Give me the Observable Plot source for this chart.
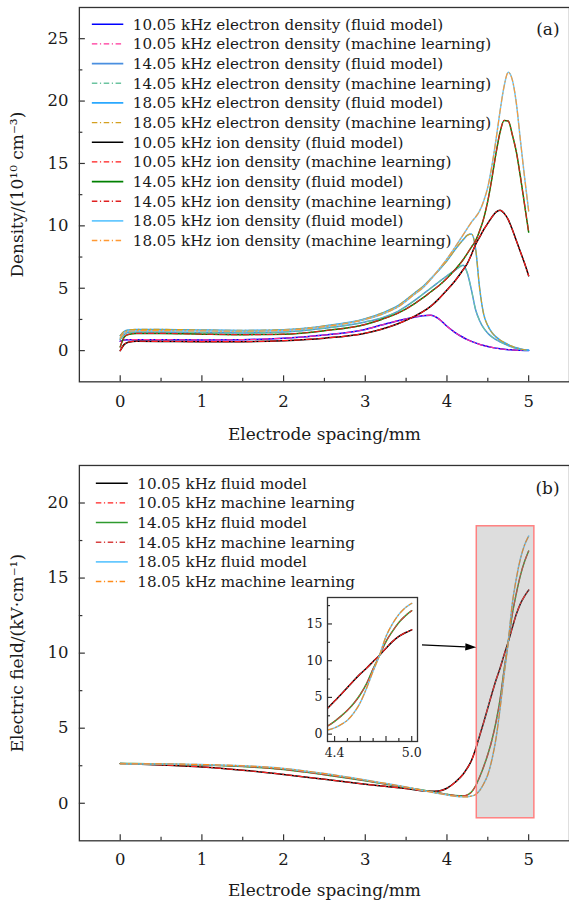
<!DOCTYPE html>
<html>
<head>
<meta charset="utf-8">
<script src="https://cdn.jsdelivr.net/npm/d3@7"></script>
<script src="https://cdn.jsdelivr.net/npm/@observablehq/plot@0.6"></script>
<style>
  html, body { margin: 0; padding: 0; background: #fff; }
  body { width: 569px; height: 905px; overflow: hidden; position: relative; font-family: "DejaVu Serif", serif; }
  #a, #b, #inset { position: absolute; }
  #a { left: 0; top: 0; }
  #b { left: 0; top: 450px; }
  #inset { left: 286.7px; top: 592.3px; background: #fff; }
</style>
</head>
<body>
<div id="a"></div>
<div id="b"></div>
<div id="inset"></div>
<script>
// ---------------- DATA: panel (a) densities (10^10 cm^-3) ----------------
const gridA = [0, 0.05, 0.1, 0.2, 0.5, 1, 1.5, 2, 2.5, 3, 3.2, 3.4, 3.6, 3.7, 3.8, 3.9, 4.0, 4.1, 4.2, 4.25, 4.3, 4.35, 4.4, 4.45, 4.5, 4.55, 4.6, 4.65, 4.7, 4.75, 4.8, 4.85, 4.9, 4.95, 5.0];
const elec10 = [0.75, 0.85, 0.88, 0.88, 0.88, 0.86, 0.88, 1.0, 1.25, 1.7, 2.05, 2.4, 2.68, 2.8, 2.84, 2.55, 1.95, 1.45, 1.05, 0.88, 0.74, 0.62, 0.5, 0.41, 0.33, 0.26, 0.2, 0.15, 0.11, 0.08, 0.06, 0.04, 0.03, 0.02, 0.01];
const elec14 = [0.9, 1.3, 1.45, 1.5, 1.5, 1.45, 1.42, 1.5, 1.8, 2.3, 2.62, 3.15, 4.0, 4.5, 5.0, 5.5, 6.0, 6.45, 6.85, 6.2, 4.85, 3.3, 2.4, 1.8, 1.4, 1.1, 0.88, 0.7, 0.55, 0.4, 0.28, 0.18, 0.11, 0.06, 0.03];
const elec18 = [1.2, 1.55, 1.65, 1.7, 1.7, 1.65, 1.62, 1.68, 1.98, 2.55, 3.0, 3.6, 4.6, 5.1, 5.75, 6.45, 7.2, 8.1, 8.9, 9.25, 9.35, 8.2, 5.0, 2.9, 2.0, 1.45, 1.1, 0.85, 0.65, 0.48, 0.34, 0.23, 0.14, 0.07, 0.03];
const ion10 = [0.0, 0.5, 0.68, 0.75, 0.74, 0.72, 0.72, 0.8, 1.0, 1.4, 1.72, 2.15, 2.75, 3.1, 3.55, 4.15, 4.85, 5.6, 6.5, 7.0, 7.7, 8.5, 9.1, 9.7, 10.2, 10.7, 11.1, 11.25, 11.0, 10.5, 9.7, 8.8, 7.9, 7.0, 6.0];
const ion14 = [0.3, 1.1, 1.3, 1.38, 1.38, 1.32, 1.28, 1.32, 1.6, 2.1, 2.5, 3.0, 3.75, 4.2, 4.7, 5.2, 5.8, 6.5, 7.3, 7.8, 8.3, 8.8, 9.6, 10.6, 12.0, 13.8, 15.8, 17.5, 18.45, 18.4, 17.3, 15.9, 13.9, 11.7, 9.5];
const ion18 = [1.0, 1.45, 1.55, 1.6, 1.6, 1.58, 1.55, 1.62, 1.92, 2.5, 2.9, 3.5, 4.5, 5.0, 5.7, 6.5, 7.35, 8.3, 9.3, 9.8, 10.3, 10.7, 11.2, 12.0, 13.1, 14.8, 16.9, 19.2, 21.2, 22.3, 21.7, 19.8, 16.8, 13.9, 11.2];
// machine-learning predictions (read as overlapping the fluid model curves)
const elec10ML = elec10, elec14ML = elec14, elec18ML = elec18;
const ion10ML = ion10, ion14ML = ion14, ion18ML = ion18;
const labelsA = [
  "10.05 kHz electron density (fluid model)",
  "10.05 kHz electron density (machine learning)",
  "14.05 kHz electron density (fluid model)",
  "14.05 kHz electron density (machine learning)",
  "18.05 kHz electron density (fluid model)",
  "18.05 kHz electron density (machine learning)",
  "10.05 kHz ion density (fluid model)",
  "10.05 kHz ion density (machine learning)",
  "14.05 kHz ion density (fluid model)",
  "14.05 kHz ion density (machine learning)",
  "18.05 kHz ion density (fluid model)",
  "18.05 kHz ion density (machine learning)"
];
const valuesA = [elec10, elec10ML, elec14, elec14ML, elec18, elec18ML, ion10, ion10ML, ion14, ion14ML, ion18, ion18ML];

// ---------------- DATA: panel (b) electric field (kV/cm) ----------------
const gridB = [0, 0.5, 1, 1.5, 2, 2.5, 3, 3.5, 3.8, 3.9, 4.0, 4.1, 4.2, 4.25, 4.3, 4.35, 4.4, 4.45, 4.5, 4.55, 4.6, 4.65, 4.7, 4.75, 4.8, 4.85, 4.9, 4.95, 5.0];
const field10 = [2.65, 2.55, 2.42, 2.2, 1.92, 1.6, 1.27, 0.98, 0.8, 0.82, 1.0, 1.4, 1.95, 2.35, 2.85, 3.6, 4.5, 5.4, 6.35, 7.3, 8.2, 9.0, 9.9, 10.75, 11.7, 12.6, 13.3, 13.8, 14.2];
const field14 = [2.65, 2.62, 2.55, 2.45, 2.25, 1.9, 1.5, 1.05, 0.78, 0.68, 0.6, 0.52, 0.5, 0.56, 0.75, 1.15, 1.75, 2.45, 3.25, 4.2, 5.4, 6.9, 8.9, 10.75, 12.6, 14.0, 15.2, 16.1, 16.8];
const field18 = [2.62, 2.62, 2.58, 2.5, 2.32, 1.98, 1.55, 1.08, 0.75, 0.65, 0.55, 0.47, 0.43, 0.43, 0.48, 0.58, 0.85, 1.3, 1.9, 2.9, 4.3, 6.3, 8.6, 10.75, 13.3, 15.0, 16.3, 17.2, 17.8];
const field10ML = field10, field14ML = field14, field18ML = field18;
const labelsB = [
  "10.05 kHz fluid model",
  "10.05 kHz machine learning",
  "14.05 kHz fluid model",
  "14.05 kHz machine learning",
  "18.05 kHz fluid model",
  "18.05 kHz machine learning"
];
const valuesB = [field10, field10ML, field14, field14ML, field18, field18ML];

// ticks
const xMajor = [0, 1, 2, 3, 4, 5];
const xMinor = [0.5, 1.5, 2.5, 3.5, 4.5];
const yMajorA = [0, 5, 10, 15, 20, 25];
const yMinorA = [2.5, 7.5, 12.5, 17.5, 22.5];
const yMajorB = [0, 5, 10, 15, 20];
const yMinorB = [2.5, 7.5, 12.5, 17.5];
const insetXMajor = [4.4, 4.6, 4.8, 5.0];
const insetXMinor = [4.5, 4.7, 4.9];
const insetXLabels = [4.4, 5.0];
const insetYMajor = [0, 5, 10, 15];
const insetYMinor = [2.5, 7.5, 12.5, 17.5];
// zoom region highlighted in (b)
const zoomX = [4.365, 5.07];
const zoomY = [-1, 18.45];

// ---------------- STYLES ----------------
const SOLID = null, DASHDOT = "5.5,2.6,1.2,2.6";
const stylesA = [
  {color: "#0000ff", dash: SOLID}, {color: "#ff3399", dash: DASHDOT},
  {color: "#4a8fe0", dash: SOLID}, {color: "#6cc4a0", dash: DASHDOT},
  {color: "#2aa8ff", dash: SOLID}, {color: "#d4a020", dash: DASHDOT},
  {color: "#000000", dash: SOLID}, {color: "#ff1a1a", dash: DASHDOT},
  {color: "#008000", dash: SOLID}, {color: "#e02020", dash: DASHDOT},
  {color: "#66c8ff", dash: SOLID}, {color: "#ff9933", dash: DASHDOT}
];
const stylesB = [
  {color: "#000000", dash: SOLID}, {color: "#ff2020", dash: DASHDOT},
  {color: "#2e9a2e", dash: SOLID}, {color: "#d84040", dash: DASHDOT},
  {color: "#66c8ff", dash: SOLID}, {color: "#ff8c1a", dash: DASHDOT}
];

const FONT = "DejaVu Serif";
const AX = "#333";

function lineMarks(grid, valuesList, styles, extra = {}) {
  return valuesList.map((vals, i) => {
    const rows = grid.map((x, j) => ({x, y: vals[j]}));
    return Plot.line(rows, {
      x: "x", y: "y", stroke: styles[i].color,
      strokeWidth: styles[i].dash ? 1.15 : 1.5,
      strokeDasharray: styles[i].dash, curve: "monotone-x", clip: true, ...extra
    });
  });
}

function legendMark(labels, styles, {x0, y0, step, len, gap, fontSize}) {
  return () => {
    const g = d3.create("svg:g").attr("font-family", FONT).attr("text-anchor", "start");
    labels.forEach((lab, i) => {
      const y = y0 + i * step;
      g.append("line").attr("x1", x0).attr("x2", x0 + len).attr("y1", y).attr("y2", y)
        .attr("stroke", styles[i].color).attr("stroke-width", styles[i].dash ? 1.4 : 1.6)
        .attr("stroke-dasharray", styles[i].dash);
      g.append("text").attr("x", x0 + len + gap).attr("y", y).attr("dy", "0.36em")
        .attr("text-anchor", "start")
        .attr("font-size", fontSize).attr("fill", "#1a1a1a").text(lab);
    });
    return g.node();
  };
}

function frameTicks(plotW, plotH, xMaj, xMin, yMaj, yMin, major = 6, minor = 3.5) {
  return [
    Plot.ruleX(xMaj, {insetTop: plotH - major, stroke: AX, strokeWidth: 1.2}),
    Plot.ruleX(xMin, {insetTop: plotH - minor, stroke: AX, strokeWidth: 1.2}),
    Plot.ruleY(yMaj, {insetRight: plotW - major, stroke: AX, strokeWidth: 1.2}),
    Plot.ruleY(yMin, {insetRight: plotW - minor, stroke: AX, strokeWidth: 1.2})
  ];
}

// ---------------- PANEL (a) ----------------
const A = {width: 570, height: 450, ml: 79, mr: 0, mt: 7, mb: 68};
const plotA = Plot.plot({
  width: A.width, height: A.height,
  marginLeft: A.ml, marginRight: A.mr, marginTop: A.mt, marginBottom: A.mb,
  x: {domain: [-0.5, 5.5]},
  y: {domain: [-2.5, 27.5]},
  style: {fontFamily: FONT, fontSize: "16px", background: "transparent", color: "#1a1a1a", overflow: "visible"},
  marks: [
    ...lineMarks(gridA, valuesA, stylesA),
    ...frameTicks(A.width - A.ml - A.mr, A.height - A.mt - A.mb, xMajor, xMinor, yMajorA, yMinorA),
    Plot.frame({stroke: AX, strokeWidth: 1.3}),
    Plot.axisX(xMajor, {tickSize: 0, tickPadding: 13, label: null, fontSize: 16.5}),
    Plot.axisY(yMajorA, {tickSize: 0, tickPadding: 11, label: null, fontSize: 16.5}),
    Plot.text(["Electrode spacing/mm"], {frameAnchor: "bottom", dy: 53, fontSize: 17, lineAnchor: "middle", textAnchor: "middle"}),
    Plot.text(["Density/(10¹⁰ cm⁻³)"], {frameAnchor: "left", dx: -62, rotate: -90, fontSize: 17, lineAnchor: "middle", textAnchor: "middle"}),
    Plot.text(["(a)"], {frameAnchor: "top-right", dx: -10, dy: 22, textAnchor: "end", lineAnchor: "middle", fontSize: 17}),
    legendMark(labelsA, stylesA, {x0: 92, y0: 24.3, step: 19.7, len: 31.5, gap: 9.5, fontSize: 15.2})
  ]
});
document.getElementById("a").append(plotA);

// ---------------- PANEL (b) ----------------
const B = {width: 570, height: 455, ml: 79, mr: 0, mt: 15, mb: 64};
const INSET = {left: 286.7, top: 592.3, width: 135, height: 174, ml: 40, mr: 5, mt: 5, mb: 25};
const plotB = Plot.plot({
  width: B.width, height: B.height,
  marginLeft: B.ml, marginRight: B.mr, marginTop: B.mt, marginBottom: B.mb,
  x: {domain: [-0.5, 5.5]},
  y: {domain: [-2.5, 22.5]},
  style: {fontFamily: FONT, fontSize: "16px", background: "transparent", color: "#1a1a1a", overflow: "visible"},
  marks: [
    ...lineMarks(gridB, valuesB, stylesB),
    Plot.rect([{x1: zoomX[0], x2: zoomX[1], y1: zoomY[0], y2: zoomY[1]}], {
      x1: "x1", x2: "x2", y1: "y1", y2: "y2", fill: "#808080", fillOpacity: 0.27,
      stroke: "#ff8080", strokeWidth: 1.5
    }),
    ...frameTicks(B.width - B.ml - B.mr, B.height - B.mt - B.mb, xMajor, xMinor, yMajorB, yMinorB),
    Plot.frame({stroke: AX, strokeWidth: 1.3}),
    Plot.axisX(xMajor, {tickSize: 0, tickPadding: 13, label: null, fontSize: 16.5}),
    Plot.axisY(yMajorB, {tickSize: 0, tickPadding: 11, label: null, fontSize: 16.5}),
    Plot.text(["Electrode spacing/mm"], {frameAnchor: "bottom", dy: 50, fontSize: 17, lineAnchor: "middle", textAnchor: "middle"}),
    Plot.text(["Electric field/(kV·cm⁻¹)"], {frameAnchor: "left", dx: -62, rotate: -90, fontSize: 17, lineAnchor: "middle", textAnchor: "middle"}),
    Plot.text(["(b)"], {frameAnchor: "top-right", dx: -10, dy: 23, textAnchor: "end", lineAnchor: "middle", fontSize: 17}),
    legendMark(labelsB, stylesB, {x0: 96, y0: 33.3, step: 19.7, len: 32, gap: 9.5, fontSize: 15.2}),
    // arrow from the inset to the highlighted region
    (index, scales) => {
      const g = d3.create("svg:g");
      const xs = INSET.left + INSET.width - INSET.mr;
      const ys = 645 - 450;
      const xe = scales.x(zoomX[0]);
      const ye = 647.7 - 450;
      const ang = Math.atan2(ye - ys, xe - xs);
      const hl = 11, hw = 3.6;
      const bx = xe - hl * Math.cos(ang), by = ye - hl * Math.sin(ang);
      g.append("line").attr("x1", xs).attr("y1", ys).attr("x2", bx).attr("y2", by)
        .attr("stroke", "#000").attr("stroke-width", 1.2);
      g.append("path").attr("fill", "#000").attr("d",
        `M${xe},${ye}L${bx - hw * Math.sin(ang)},${by + hw * Math.cos(ang)}L${bx + hw * Math.sin(ang)},${by - hw * Math.cos(ang)}Z`);
      return g.node();
    }
  ]
});
document.getElementById("b").append(plotB);

// ---------------- INSET ----------------
const plotInset = Plot.plot({
  width: INSET.width, height: INSET.height,
  marginLeft: INSET.ml, marginRight: INSET.mr, marginTop: INSET.mt, marginBottom: INSET.mb,
  x: {domain: [4.345, 5.045]},
  y: {domain: [-1, 18.6]},
  style: {fontFamily: FONT, fontSize: "12px", background: "#fff", color: "#1a1a1a", overflow: "visible"},
  marks: [
    ...lineMarks(gridB, valuesB, stylesB),
    ...frameTicks(INSET.width - INSET.ml - INSET.mr, INSET.height - INSET.mt - INSET.mb,
                  insetXMajor, insetXMinor, insetYMajor, insetYMinor, 5, 3),
    Plot.frame({stroke: AX, strokeWidth: 1.3}),
    Plot.axisX(insetXLabels, {tickSize: 0, tickPadding: 7, label: null, fontSize: 12.5, tickFormat: d3.format(".1f")}),
    Plot.axisY(insetYMajor, {tickSize: 0, tickPadding: 5, label: null, fontSize: 12.5})
  ]
});
document.getElementById("inset").append(plotInset);
</script>
</body>
</html>
